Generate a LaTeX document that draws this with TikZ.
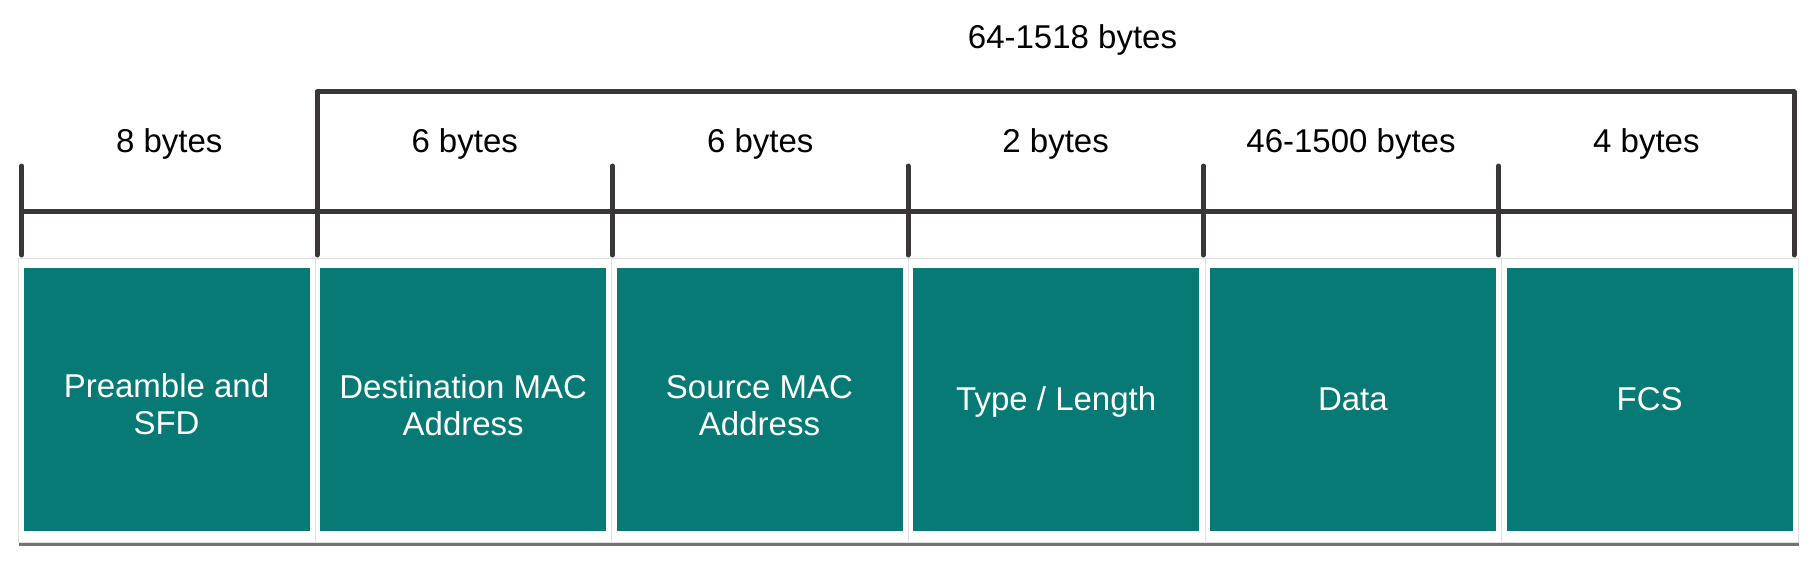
\documentclass[tikz,border=0pt]{standalone}
\usepackage{fontspec}
\setmainfont{Liberation Sans}
\usetikzlibrary{shadows}
\definecolor{tealbox}{RGB}{8,122,118}
\definecolor{ink}{RGB}{58,54,55}
\begin{document}
\begin{tikzpicture}[x=1pt,y=-1pt,
  card/.style={fill=white, draw=black!12, line width=0.8pt, inner sep=0pt, minimum width=296.67pt, minimum height=283.7pt, anchor=north west,
    drop shadow={shadow xshift=1pt, shadow yshift=-4pt, opacity=0.55, fill=black}},
  field/.style={fill=tealbox, draw=none, inner sep=0pt, minimum width=286pt, minimum height=262.7pt, anchor=north west},
  fieldtext/.style={text=white, align=center, inner sep=0pt, anchor=base, font=\fontsize{33}{37}\selectfont},
  span/.style={text=black, font=\fontsize{33}{37}\selectfont, inner sep=0pt, anchor=base},
  rule/.style={ink, line width=5pt, line cap=round, line join=round}]
\useasboundingbox (0,0) rectangle (1817,562);
% cards
\node[card] (c1) at (18,258) {};
\node[field] (f1) at (23.3,268) {};
\node[card] (c2) at (314.7,258) {};
\node[field] (f2) at (320,268) {};
\node[card] (c3) at (611.3,258) {};
\node[field] (f3) at (616.3,268) {};
\node[card] (c4) at (908,258) {};
\node[field] (f4) at (913,268) {};
\node[card] (c5) at (1204.7,258) {};
\node[field] (f5) at (1209.7,268) {};
\node[card] (c6) at (1501.3,258) {};
\node[field] (f6) at (1506.5,268) {};
% field texts (base = baseline of last line)
\node[fieldtext] (x1) at (f1.center |- 0,434.5) {Preamble and\\SFD};
\node[fieldtext] (x2) at (f2.center |- 0,435) {Destination MAC\\Address};
\node[fieldtext] (x3) at (f3.center |- 0,435) {Source MAC\\Address};
\node[fieldtext] (x4) at (f4.center |- 0,410.7) {Type / Length};
\node[fieldtext] (x5) at (f5.center |- 0,410.7) {Data};
\node[fieldtext] (x6) at (f6.center |- 0,410.7) {FCS};
% scale coordinates
\coordinate (t0) at (21.7,166);
\coordinate (t1) at (317,166);
\coordinate (t2) at (612.4,166);
\coordinate (t3) at (908,166);
\coordinate (t4) at (1203.3,166);
\coordinate (t5) at (1498.8,166);
\coordinate (t6) at (1794,166);
\coordinate (b0) at (21.7,255);
\coordinate (b1) at (317,255);
\coordinate (b2) at (612.4,255);
\coordinate (b3) at (908,255);
\coordinate (b4) at (1203.3,255);
\coordinate (b5) at (1498.8,255);
\coordinate (b6) at (1794,255);
\coordinate (m0) at (21.7,211.7);
\coordinate (m6) at (1794,211.7);
\coordinate (k1) at (317,91.7);
\coordinate (k6) at (1794,91.7);
\draw[rule] (m0) -- (m6);
\draw[rule] (t0) -- (b0);
\draw[rule] (t2) -- (b2);
\draw[rule] (t3) -- (b3);
\draw[rule] (t4) -- (b4);
\draw[rule] (t5) -- (b5);
\draw[rule] (b1) -- (k1) -- (k6) -- (b6);
% labels
\node[span] (l1) at (169.3,152.7) {8 bytes};
\node[span] (l2) at (464.7,152.7) {6 bytes};
\node[span] (l3) at (760.2,152.7) {6 bytes};
\node[span] (l4) at (1055.6,152.7) {2 bytes};
\node[span] (l5) at (1351,152.7) {46-1500 bytes};
\node[span] (l6) at (1646.4,152.7) {4 bytes};
\node[span] (top) at (1072.5,48.3) {64-1518 bytes};
\end{tikzpicture}
\end{document}
